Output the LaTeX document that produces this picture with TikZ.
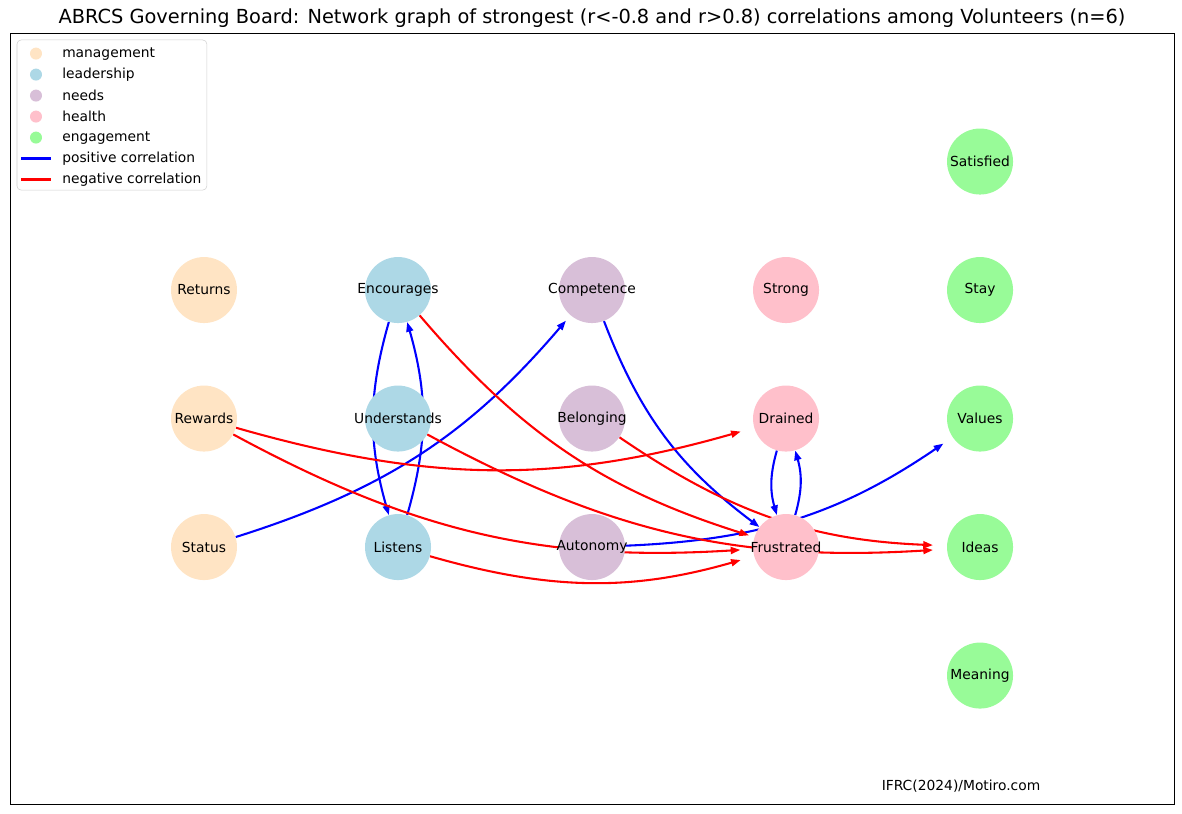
\documentclass[tikz,border=0pt]{standalone}
\usepackage{fontspec}
\setmainfont{DejaVu Sans}
\usetikzlibrary{arrows.meta}
\definecolor{mgmtColor}{RGB}{255,228,196}
\definecolor{leadColor}{RGB}{173,216,230}
\definecolor{needsColor}{RGB}{216,191,216}
\definecolor{healthColor}{RGB}{255,192,203}
\definecolor{engageColor}{RGB}{152,251,152}
\pgfdeclarelayer{edges}
\pgfsetlayers{edges,main}

\begin{document}
\begin{tikzpicture}[x=1.94in, y=1.285in, font=\fontsize{10}{12}\selectfont,
		factor/.style={circle, minimum size=0.66in, inner sep=0pt},
		posline/.style={draw=blue, line width=1.5pt, -{Triangle[length=7pt,width=5pt]}},
		negline/.style={draw=red, line width=1.5pt, -{Triangle[length=7pt,width=5pt]}},
		farend/.style={shorten >=#1}]
		\useasboundingbox (-0.0515,0.257) rectangle (6.041,-6.070);
		\draw[line width=0.6pt] (0,0) rectangle (6,-6);
		\node (title) at (3,0.117) {\fontsize{14}{17}\selectfont ABRCS Governing Board: Network graph of strongest (r<-0.8 and r>0.8) correlations among Volunteers (n=6)};
		\node (credit) at (4.902,-5.86) {IFRC(2024)/Motiro.com};

		\begin{scope}[every node/.style={factor, fill=mgmtColor}]
			\node (Ret) at (1,-2) [label=center:Returns] {};
			\node (Rew) at (1,-3) [label=center:Rewards] {};
			\node (Sta) at (1,-4) [label=center:Status] {};
		\end{scope}
		\begin{scope}[every node/.style={factor, fill=leadColor}]
			\node (Enc) at (2,-2) [label=center:Encourages] {};
			\node (Und) at (2,-3) [label=center:Understands] {};
			\node (Lis) at (2,-4) [label=center:Listens] {};
		\end{scope}
		\begin{scope}[every node/.style={factor, fill=needsColor}]
			\node (Com) at (3,-2) [label=center:Competence] {};
			\node (Bel) at (3,-3) [label=center:Belonging] {};
			\node (Aut) at (3,-4) [label=center:Autonomy] {};
		\end{scope}
		\begin{scope}[every node/.style={factor, fill=healthColor}]
			\node (Str) at (4,-2) [label=center:Strong] {};
			\node (Dra) at (4,-3) [label=center:Drained] {};
			\node (Fru) at (4,-4) [label=center:Frustrated] {};
		\end{scope}
		\begin{scope}[every node/.style={factor, fill=engageColor}]
			\node (Sat) at (5,-1) [label=center:Satisfied] {};
			\node (Sty) at (5,-2) [label=center:Stay] {};
			\node (Val) at (5,-3) [label=center:Values] {};
			\node (Ide) at (5,-4) [label=center:Ideas] {};
			\node (Mea) at (5,-5) [label=center:Meaning] {};
		\end{scope}

		\begin{pgfonlayer}{edges}
			% positive
			\draw[posline] (Enc) to[bend right=16] (Lis);
			\draw[posline] (Lis) to[bend right=16] (Enc);
			\draw[posline, farend=5pt] (Sta) to[bend right=16] (Com);
			\draw[posline] (Com) to[bend right=16] (Fru);
			\draw[posline] (Dra) to[bend right=16] (Fru);
			\draw[posline] (Fru) to[bend right=16] (Dra);
			\draw[posline, farend=8pt] (Aut) to[bend right=16] (Val);
			% negative
			\draw[negline, farend=10pt] (Rew) to[bend right=16] (Dra);
			\draw[negline, farend=9pt] (Rew) to[bend right=16] (Fru);
			\draw[negline, farend=4pt] (Enc) to[bend right=16] (Fru);
			\draw[negline, farend=10pt] (Und) to[bend right=16] (Ide);
			\draw[negline, farend=10pt] (Lis) to[bend right=16] (Fru);
			\draw[negline, farend=10pt] (Bel) to[bend right=16] (Ide);
		\end{pgfonlayer}

		% legend
		\draw[rounded corners=3pt, draw=black!18, fill=white] (0.036,-0.054) rectangle (1.015,-1.222);
		\foreach \lbl/\clr [count=\i] in {management/mgmtColor, leadership/leadColor, needs/needsColor, health/healthColor, engagement/engageColor} {
			\node[circle, fill=\clr, minimum size=0.12in, inner sep=0pt] (key\i) at (0.134,{-0.16-0.1634*(\i-1)}) {};
			\node[anchor=west, inner sep=0pt] (keytext\i) at (0.268,{-0.16-0.1634*(\i-1)}) {\lbl};
		}
		\foreach \lbl/\clr [count=\i from 6] in {positive correlation/blue, negative correlation/red} {
			\coordinate (keyA\i) at (0.057,{-0.16-0.1634*(\i-1)});
			\coordinate (keyB\i) at (0.211,{-0.16-0.1634*(\i-1)});
			\draw[\clr, line width=2pt] (keyA\i) -- (keyB\i);
			\node[anchor=west, inner sep=0pt] (keytext\i) at (0.268,{-0.16-0.1634*(\i-1)}) {\lbl};
		}
	\end{tikzpicture}
\end{document}
